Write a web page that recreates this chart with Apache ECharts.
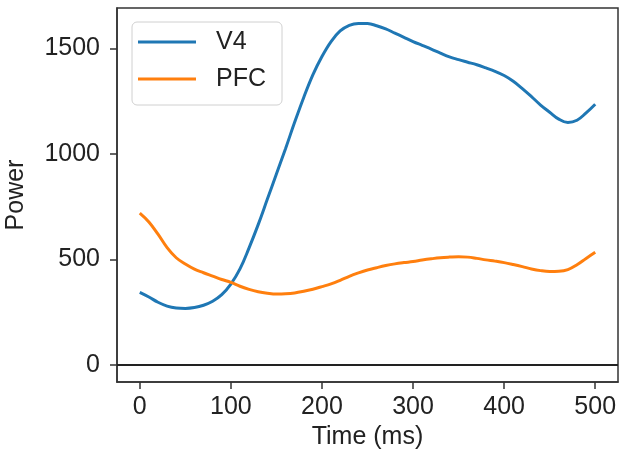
<!DOCTYPE html>
<html>
<head>
<meta charset="utf-8">
<script src="https://cdn.jsdelivr.net/npm/echarts@6/dist/echarts.min.js"></script>
<style>html,body{margin:0;padding:0;background:#fff}#c{width:630px;height:461px}</style>
</head>
<body>
<div id="c"></div>
<script>
const times = [0,10,20,30,40,50,60,70,80,90,100,110,120,130,140,150,160,170,180,190,200,210,220,230,240,250,260,270,280,290,300,310,320,330,340,350,360,370,380,390,400,410,420,430,440,450,460,470,480,490,500];
const v4 = [344,322,297,279,270,268,272,283,302,333,383,455,555,665,785,905,1025,1150,1268,1375,1462,1533,1583,1610,1619,1618,1608,1593,1573,1553,1533,1515,1497,1478,1460,1447,1435,1423,1408,1392,1372,1345,1310,1272,1232,1198,1165,1149,1160,1195,1236];
const pfc = [720,678,620,556,508,478,454,437,421,405,391,373,358,347,340,336,337,341,349,359,371,384,401,420,436,450,461,471,479,485,490,497,503,508,511,513,511,505,498,492,485,476,466,455,447,443,444,452,475,505,534];
const xTicks = [0,100,200,300,400,500];
const yTicks = [0,500,1000,1500];
const seriesNames = ['V4','PFC'];
const xLabel = 'Time (ms)';
const yLabel = 'Power';

const font = 'Liberation Sans, Arial, Helvetica, sans-serif';
const ink = '#222';
const chart = echarts.init(document.getElementById('c'), null, {renderer:'canvas'});
const pairs = arr => times.map((t,i)=>[t,arr[i]]);
chart.setOption({
  animation:false,
  grid:{left:117,right:12,top:8,bottom:79,containLabel:false,outerBoundsMode:'none',show:true,borderColor:'#333',borderWidth:1.5,backgroundColor:'transparent'},
  legend:{
    left:132, top:22, orient:'vertical',
    icon:'rect', itemWidth:58, itemHeight:3, itemGap:9,
    padding:[6,16,12,6],
    borderColor:'#d0d0d0', borderWidth:1, borderRadius:5, backgroundColor:'#fff',
    textStyle:{fontFamily:font,fontSize:25,color:ink,lineHeight:28,padding:[0,0,0,15]},
    data:seriesNames
  },
  xAxis:{
    type:'value', min:-25, max:525,
    name:xLabel, nameLocation:'middle', nameGap:38,
    nameTextStyle:{fontFamily:font,fontSize:25,color:ink},
    axisLine:{show:true,onZero:false,lineStyle:{color:'#333',width:1.5}},
    axisTick:{show:true,length:7,lineStyle:{color:'#333',width:1.5},customValues:xTicks},
    axisLabel:{fontFamily:font,fontSize:25,color:ink,margin:13,customValues:xTicks,formatter:v=>String(v)},
    splitLine:{show:false}
  },
  yAxis:{
    type:'value', min:-81, max:1692,
    name:yLabel, nameLocation:'middle', nameGap:88, nameRotate:90,
    nameTextStyle:{fontFamily:font,fontSize:25,color:ink},
    axisLine:{show:true,onZero:false,lineStyle:{color:'#333',width:1.5}},
    axisTick:{show:true,length:7,lineStyle:{color:'#333',width:1.5},customValues:yTicks},
    axisLabel:{fontFamily:font,fontSize:25,color:ink,margin:17,customValues:yTicks,formatter:v=>String(v)},
    splitLine:{show:false}
  },
  series:[
    {name:seriesNames[0],type:'line',data:pairs(v4),showSymbol:false,smooth:0.4,
     lineStyle:{color:'#1f77b4',width:3},itemStyle:{color:'#1f77b4'},
     markLine:{silent:true,symbol:'none',label:{show:false},lineStyle:{color:'#222',width:1.8,type:'solid'},data:[{yAxis:0}]}},
    {name:seriesNames[1],type:'line',data:pairs(pfc),showSymbol:false,smooth:0.4,
     lineStyle:{color:'#ff7f0e',width:3},itemStyle:{color:'#ff7f0e'}}
  ]
});
</script>
</body>
</html>
